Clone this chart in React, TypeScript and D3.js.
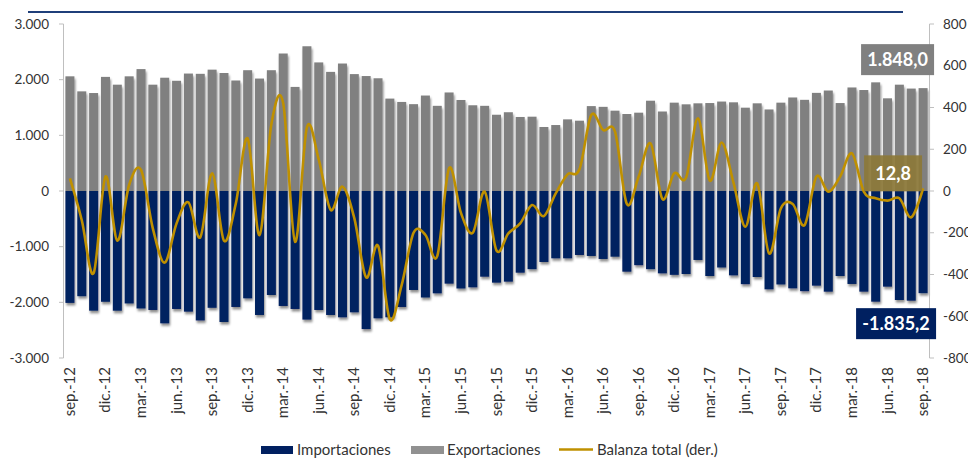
import React from 'react';
import * as d3 from 'd3';

// meses sep-12 .. sep-18
const categories = [
  'sep-12', 'oct-12', 'nov-12', 'dic-12',
  'ene-13', 'feb-13', 'mar-13', 'abr-13', 'may-13', 'jun-13', 'jul-13', 'ago-13', 'sep-13', 'oct-13', 'nov-13', 'dic-13',
  'ene-14', 'feb-14', 'mar-14', 'abr-14', 'may-14', 'jun-14', 'jul-14', 'ago-14', 'sep-14', 'oct-14', 'nov-14', 'dic-14',
  'ene-15', 'feb-15', 'mar-15', 'abr-15', 'may-15', 'jun-15', 'jul-15', 'ago-15', 'sep-15', 'oct-15', 'nov-15', 'dic-15',
  'ene-16', 'feb-16', 'mar-16', 'abr-16', 'may-16', 'jun-16', 'jul-16', 'ago-16', 'sep-16', 'oct-16', 'nov-16', 'dic-16',
  'ene-17', 'feb-17', 'mar-17', 'abr-17', 'may-17', 'jun-17', 'jul-17', 'ago-17', 'sep-17', 'oct-17', 'nov-17', 'dic-17',
  'ene-18', 'feb-18', 'mar-18', 'abr-18', 'may-18', 'jun-18', 'jul-18', 'ago-18', 'sep-18',
];

const exportaciones = [
  2060, 1790, 1760, 2050, 1910, 2060, 2190, 1910, 2035, 1980,
  2110, 2105, 2180, 2120, 1985, 2170, 2020, 2170, 2470, 1870,
  2600, 2310, 2140, 2290, 2100, 2065, 2025, 1660, 1600, 1560,
  1715, 1530, 1770, 1635, 1540, 1530, 1370, 1415, 1330, 1335,
  1150, 1185, 1287, 1263, 1525, 1512, 1443, 1383, 1407, 1622,
  1428, 1587, 1557, 1575, 1580, 1607, 1593, 1497, 1575, 1465,
  1587, 1680, 1638, 1763, 1805, 1580, 1860, 1814, 1952, 1665,
  1910, 1840, 1848.0,
];

const importaciones = [
  -2010, -1890, -2150, -1990, -2150, -2020, -2110, -2137, -2377, -2119,
  -2167, -2325, -2098, -2353, -2083, -1928, -2227, -1868, -2065, -2119,
  -2310, -2137, -2227, -2269, -2179, -2480, -2287, -2269, -2083, -1778,
  -1913, -1838, -1664, -1751, -1730, -1539, -1646, -1628, -1467, -1404,
  -1275, -1209, -1209, -1149, -1167, -1221, -1180, -1449, -1332, -1404,
  -1479, -1506, -1491, -1239, -1527, -1374, -1515, -1673, -1545, -1766,
  -1679, -1748, -1799, -1700, -1808, -1527, -1670, -1808, -1988, -1718,
  -1958, -1970, -1835.2,
];

const balanza = [
  60, -140, -394, 69, -238, 30, 101, -180, -343, -155,
  -54, -222, 85, -238, -60, 252, -211, 320, 420, -243,
  305, 150, -90, 21, -130, -414, -262, -615, -450, -200,
  -210, -312, 109, -105, -200, -3, -285, -203, -155, -67,
  -120, -11, 80, 104, 364, 292, 284, -62, 69, 228,
  -38, 85, 65, 348, 50, 232, 40, -171, 37, -299,
  -83, -62, -163, 69, -3, 69, 180, -3, -35, -46,
  -35, -126, 12.8,
];

const xTickLabels = [
  'sep.-12', 'dic.-12', 'mar.-13', 'jun.-13', 'sep.-13', 'dic.-13', 'mar.-14', 'jun.-14', 'sep.-14',
  'dic.-14', 'mar.-15', 'jun.-15', 'sep.-15', 'dic.-15', 'mar.-16', 'jun.-16', 'sep.-16', 'dic.-16',
  'mar.-17', 'jun.-17', 'sep.-17', 'dic.-17', 'mar.-18', 'jun.-18', 'sep.-18',
];

const leftTicks = [3000, 2000, 1000, 0, -1000, -2000, -3000];
const rightTicks = [800, 600, 400, 200, 0, -200, -400, -600, -800];

const es = d3.formatLocale({ decimal: ',', thousands: '.', grouping: [3], currency: ['', ''], minus: '-' });
const fmtInt = es.format(',');
const fmt1 = es.format(',.1f');

const NAVY = '#002060';
const GRAY = '#808080';
const GOLD = '#BF9000';
const FONT = 'Lato, "Open Sans", sans-serif';

export default function App() {
  const x = d3.scaleBand<string>().domain(categories).range([64, 929]).paddingInner(0.24).paddingOuter(0.12);
  const yL = d3.scaleLinear().domain([-3000, 3000]).range([358, 24]);
  const yR = d3.scaleLinear().domain([-800, 800]).range([358, 24]);
  const cx = (c: string) => (x(c) as number) + x.bandwidth() / 2;

  const line = d3.line<number>()
    .x((_, i) => cx(categories[i]))
    .y(d => yR(d))
    .curve(d3.curveCatmullRom.alpha(0));

  const last = categories.length - 1;
  const lastX = cx(categories[last]);

  return (
    <div style={{ position: 'fixed', left: 0, top: 0, width: 968, height: 473, overflow: 'hidden', background: '#fff' }}>
      <svg width={968} height={473} style={{ display: 'block', fontFamily: FONT }}>
        <defs>
          <filter id="sh" x="-50%" y="-10%" width="200%" height="130%">
            <feDropShadow dx="1" dy="2.5" stdDeviation="1.3" floodColor="#000" floodOpacity="0.45" />
          </filter>
        </defs>

        <line x1={28} x2={903} y1={12} y2={12} stroke="#1F3F7A" strokeWidth={2.2} />

        <g filter="url(#sh)">
          {exportaciones.map((v, i) => (
            <rect key={i} x={x(categories[i])} width={x.bandwidth()} y={yL(v)} height={yL(0) - yL(v)} fill={GRAY} />
          ))}
        </g>
        <g filter="url(#sh)">
          {importaciones.map((v, i) => (
            <rect key={i} x={x(categories[i])} width={x.bandwidth()} y={yL(0)} height={yL(v) - yL(0)} fill={NAVY} />
          ))}
        </g>

        {/* eje izquierdo */}
        <line x1={63.5} x2={63.5} y1={yL(3000)} y2={yL(-3000)} stroke="#BFBFBF" />
        {leftTicks.map(t => (
          <g key={t}>
            <line x1={59} x2={63.5} y1={yL(t)} y2={yL(t)} stroke="#BFBFBF" />
            <text x={49} y={yL(t)} dy="0.35em" textAnchor="end" fontSize={13.5} fill="#333">{fmtInt(t)}</text>
          </g>
        ))}

        {/* eje derecho */}
        <line x1={929.5} x2={929.5} y1={yR(800)} y2={yR(-800)} stroke="#BFBFBF" />
        {rightTicks.map(t => (
          <g key={t}>
            <line x1={929.5} x2={934} y1={yR(t)} y2={yR(t)} stroke="#BFBFBF" />
            <text x={943} y={yR(t)} dy="0.35em" textAnchor="start" fontSize={13.5} fill="#333">{fmtInt(t)}</text>
          </g>
        ))}

        {/* eje x */}
        {xTickLabels.map((lab, k) => {
          const px = cx(categories[k * 3]) + 5;
          return (
            <text key={lab} transform={`translate(${px},367) rotate(-90)`} textAnchor="end" fontSize={15} fill="#333">{lab}</text>
          );
        })}

        <path d={line(balanza) || ''} fill="none" stroke={GOLD} strokeWidth={2.6} />

        {/* etiquetas de datos */}
        <rect x={lastX - 62} y={yL(exportaciones[last]) - 44} width={73} height={31} fill={GRAY} />
        <text x={lastX - 25.5} y={yL(exportaciones[last]) - 28.5} dy="0.35em" textAnchor="middle" fontSize={18} fontWeight={700} fill="#fff">{fmt1(exportaciones[last])}</text>

        <rect x={lastX - 59} y={yR(balanza[last]) - 33} width={58} height={36} fill="#8C7838" fillOpacity={0.92} />
        <text x={lastX - 30} y={yR(balanza[last]) - 15} dy="0.35em" textAnchor="middle" fontSize={18} fontWeight={700} fill="#fff">{fmt1(balanza[last])}</text>

        <rect x={lastX - 67} y={yL(importaciones[last]) + 15} width={80} height={31} fill={NAVY} />
        <text x={lastX - 27} y={yL(importaciones[last]) + 30.5} dy="0.35em" textAnchor="middle" fontSize={18} fontWeight={700} fill="#fff">{fmt1(importaciones[last])}</text>

        {/* leyenda */}
        <rect x={261} y={446} width={32} height={8} fill={NAVY} />
        <text x={297} y={450} dy="0.35em" fontSize={15} fill="#333">Importaciones</text>
        <rect x={411} y={446} width={33} height={8} fill="#919191" />
        <text x={447} y={450} dy="0.35em" fontSize={15} fill="#333">Exportaciones</text>
        <line x1={559} x2={593} y1={449.5} y2={449.5} stroke={GOLD} strokeWidth={2.6} />
        <text x={597} y={450} dy="0.35em" fontSize={15} fill="#333">Balanza total (der.)</text>
      </svg>
    </div>
  );
}
